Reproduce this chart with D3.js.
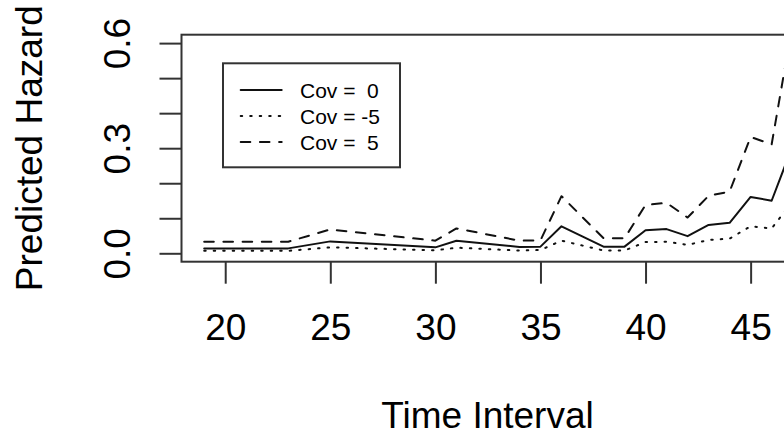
<!DOCTYPE html>
<html>
<head>
<meta charset="utf-8">
<script src="https://cdn.jsdelivr.net/npm/d3@7"></script>
<style>
  body { margin: 0; background: #fff; }
  text { font-family: "Liberation Sans", Arial, sans-serif; fill: #000; }
</style>
</head>
<body>
<div id="chart"></div>
<script>
// time intervals where the curves bend
const times = [19, 23, 25, 30, 31, 34, 35, 36, 38, 39, 40, 41, 42, 43, 44, 45, 46, 47];

const hazCov0 = [0.014, 0.014, 0.034, 0.017, 0.036, 0.018, 0.019, 0.077, 0.019, 0.019,
                 0.066, 0.069, 0.049, 0.081, 0.087, 0.161, 0.150, 0.307];
const hazCovNeg5 = [0.007, 0.007, 0.017, 0.0085, 0.016, 0.0078, 0.0094, 0.036, 0.008, 0.008,
                    0.032, 0.033, 0.024, 0.038, 0.042, 0.077, 0.071, 0.148];
const hazCov5 = [0.033, 0.033, 0.068, 0.036, 0.071, 0.036, 0.037, 0.163, 0.043, 0.043,
                 0.138, 0.144, 0.102, 0.164, 0.176, 0.332, 0.311, 0.656];

const legendLabels = ["Cov =  0", "Cov = -5", "Cov =  5"];

const xTicks = [20, 25, 30, 35, 40, 45];
const yTicks = [0, 0.1, 0.2, 0.3, 0.4, 0.5, 0.6];
const yTickLabels = ["0.0", "", "", "0.3", "", "", "0.6"];

const width = 784,
  height = 432;

const plot = { left: 181.5, right: 793.5, top: 34.7, bottom: 261.7 };

const svg = d3.select("#chart")
  .append("svg")
  .attr("width", width)
  .attr("height", height);

// R style: limits padded by 4%
const x = d3.scaleLinear()
  .domain([17.92, 47.04])
  .range([plot.left, plot.right]);

const y = d3.scaleLinear()
  .domain([-0.024, 0.624])
  .range([plot.bottom, plot.top]);

const styles = [
  { values: hazCov0, dash: null },
  { values: hazCovNeg5, dash: "1.5,8" },
  { values: hazCov5, dash: "9.6,9.6" }
];

svg.append("clipPath")
  .attr("id", "plot-clip")
  .append("rect")
  .attr("x", plot.left)
  .attr("y", plot.top)
  .attr("width", plot.right - plot.left)
  .attr("height", plot.bottom - plot.top);

const line = d3.line()
  .x((d, i) => x(times[i]))
  .y(d => y(d));

svg.append("g")
  .attr("clip-path", "url(#plot-clip)")
  .selectAll("path")
  .data(styles)
  .join("path")
  .attr("fill", "none")
  .attr("stroke", "#111")
  .attr("stroke-width", 2)
  .attr("stroke-linecap", "round")
  .attr("stroke-linejoin", "round")
  .attr("stroke-dasharray", d => d.dash)
  .attr("d", d => line(d.values));

// box
svg.append("rect")
  .attr("x", plot.left)
  .attr("y", plot.top)
  .attr("width", plot.right - plot.left)
  .attr("height", plot.bottom - plot.top)
  .attr("fill", "none")
  .attr("stroke", "#333")
  .attr("stroke-width", 2);

// x axis
const xAxis = svg.append("g")
  .attr("transform", `translate(0,${plot.bottom})`)
  .call(d3.axisBottom(x).tickValues(xTicks).tickSize(22).tickSizeOuter(0));
xAxis.select(".domain").remove();
xAxis.selectAll(".tick line").attr("stroke", "#333").attr("stroke-width", 2);
xAxis.selectAll(".tick text")
  .attr("y", 78.5)
  .attr("dy", null)
  .attr("font-size", 37)
  .attr("font-family", null)
  .attr("fill", "#000");

// y axis
const yAxis = svg.append("g")
  .attr("transform", `translate(${plot.left},0)`)
  .call(d3.axisLeft(y).tickValues(yTicks).tickSize(22).tickSizeOuter(0)
    .tickFormat((d, i) => yTickLabels[i]));
yAxis.select(".domain").remove();
yAxis.selectAll(".tick line").attr("stroke", "#333").attr("stroke-width", 2);
yAxis.selectAll(".tick text")
  .attr("x", null)
  .attr("dy", null)
  .attr("text-anchor", "middle")
  .attr("transform", "translate(-51.5,0) rotate(-90)")
  .attr("font-size", 37)
  .attr("font-family", null)
  .attr("fill", "#000");

// axis titles
svg.append("text")
  .attr("x", (plot.left + plot.right) / 2)
  .attr("y", 428)
  .attr("text-anchor", "middle")
  .attr("font-size", 37)
  .text("Time Interval");

svg.append("text")
  .attr("transform", `translate(41.5,${(plot.top + plot.bottom) / 2}) rotate(-90)`)
  .attr("text-anchor", "middle")
  .attr("font-size", 37)
  .text("Predicted Hazard");

// legend
const legend = svg.append("g");
legend.append("rect")
  .attr("x", 223)
  .attr("y", 63.3)
  .attr("width", 177)
  .attr("height", 104)
  .attr("fill", "#fff")
  .attr("stroke", "#333")
  .attr("stroke-width", 2);

const rows = legend.selectAll("g.row")
  .data(styles)
  .join("g")
  .attr("class", "row")
  .attr("transform", (d, i) => `translate(0,${90 + i * 26})`);

rows.append("line")
  .attr("x1", 240.7)
  .attr("x2", 281.7)
  .attr("stroke", "#111")
  .attr("stroke-width", 2)
  .attr("stroke-linecap", "round")
  .attr("stroke-dasharray", d => d.dash);

rows.append("text")
  .attr("x", 300)
  .attr("dy", "0.36em")
  .attr("font-size", 21)
  .style("white-space", "pre")
  .text((d, i) => legendLabels[i]);
</script>
</body>
</html>
